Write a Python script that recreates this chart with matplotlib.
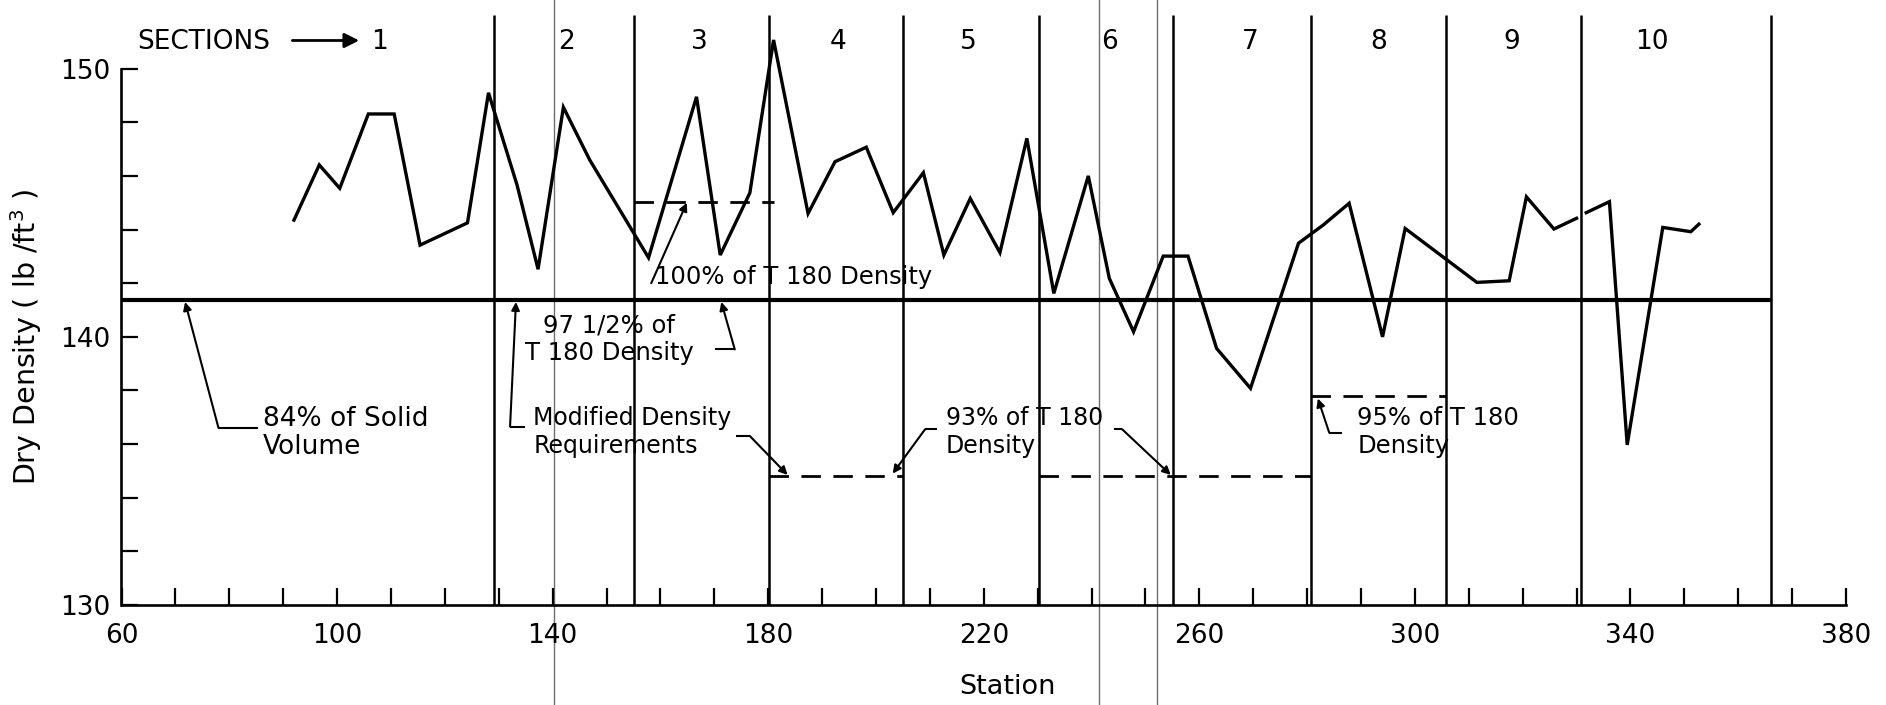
import numpy as np
import matplotlib
matplotlib.use("Agg")
import matplotlib.pyplot as plt
from matplotlib.ticker import FixedLocator

plt.rcParams['font.family'] = ['DejaVu Sans']

# ---------------- data ----------------
stations = [92.0, 96.7, 100.5, 105.8, 110.6, 115.4, 124.2, 128.1, 133.4, 137.3,
            142.0, 146.9, 157.8, 166.7, 171.1, 176.6, 181.0, 187.4, 192.4, 198.2,
            203.2, 208.8, 212.6, 217.5, 223.0, 228.0, 233.0, 239.4, 243.3, 247.8,
            253.3, 257.9, 263.2, 269.5, 278.4, 283.0, 287.8, 294.0, 298.2, 311.5,
            317.5, 320.7, 325.8, 330.0, np.nan, 331.8, 336.1, 339.4, 346.0, 351.2,
            352.7]
dry_density = [144.35, 146.41, 145.54, 148.31, 148.31, 143.42, 144.25, 149.10, 145.66, 142.52,
               148.56, 146.59, 142.95, 148.95, 143.05, 145.37, 151.07, 144.60, 146.53, 147.07,
               144.63, 146.12, 143.05, 145.16, 143.14, 147.40, 141.62, 146.00, 142.18, 140.19,
               143.01, 143.01, 139.57, 138.08, 143.49, 144.17, 144.98, 140.00, 144.04, 142.03,
               142.09, 145.22, 144.02, 144.42, np.nan, 144.63, 145.04, 135.97, 144.08, 143.92,
               144.20]

section_bounds = [129.2, 155.1, 180.1, 205.1, 230.3, 255.2, 280.8, 305.8, 330.8, 366.0]
section_names = ['1', '2', '3', '4', '5', '6', '7', '8', '9', '10']
section_label_x = [107.9, 142.5, 167.3, 193.0, 217.2, 243.3, 269.5, 293.3, 318.0, 344.0]

solid_volume_density = 141.37          # 84% of solid volume (also 97 1/2 % T180)
t180_100 = 145.04
t180_93 = 134.81
t180_95 = 137.80
spans_100 = [(155.1, 181.0)]
spans_93 = [(180.1, 205.1), (230.3, 280.8)]
spans_95 = [(280.8, 305.8)]

scan_lines = [140.3, 241.3, 252.2]     # faint vertical lines of the scanned sheet

x_major = [60, 100, 140, 180, 220, 260, 300, 340, 380]
x_minor = list(range(60, 381, 10))
y_major = [130, 140, 150]
y_minor = list(range(130, 151, 2))

# ---------------- figure ----------------
W, H = 1886, 705
fig = plt.figure(figsize=(W / 100, H / 100), dpi=100)
x0, x1 = 121.5, 1846.0
yb = 605.0
ax = fig.add_axes([x0 / W, 1 - yb / H, (x1 - x0) / W, yb / H])
ax.set_xlim(60, 380)
ax.set_ylim(130, 152.56)

for s in ['top', 'right']:
    ax.spines[s].set_visible(False)
ax.spines['left'].set_bounds(130, 150)
ax.spines['bottom'].set_bounds(60, 380)
for s in ['left', 'bottom']:
    ax.spines[s].set_linewidth(1.9)

ax.xaxis.set_major_locator(FixedLocator(x_major))
ax.xaxis.set_minor_locator(FixedLocator(x_minor))
ax.yaxis.set_major_locator(FixedLocator(y_major))
ax.yaxis.set_minor_locator(FixedLocator(y_minor))
ax.tick_params(axis='both', which='both', direction='in', length=12, width=1.6,
               labelsize=19)
ax.tick_params(axis='x', which='major', pad=13)
ax.tick_params(axis='y', which='major', pad=8)

# scan artefact lines
for xs in scan_lines:
    ax.axvline(xs, ymin=-0.2, ymax=1.0, color='#6e6e6e', lw=1.0, clip_on=False, zorder=1)

# section boundaries
ax.vlines(section_bounds, 130, 152.0, color='black', lw=1.8, zorder=2)

# 84% solid volume line
ax.hlines(solid_volume_density, 60, section_bounds[-1], color='black', lw=3.0, zorder=3)

# dashed T180 lines
dash = (0, (7, 4.5))
for a, b in spans_100:
    ax.plot([a, b], [t180_100, t180_100], color='black', lw=2.0, linestyle=dash)
for a, b in spans_93:
    ax.plot([a, b], [t180_93, t180_93], color='black', lw=2.0, linestyle=dash)
for a, b in spans_95:
    ax.plot([a, b], [t180_95, t180_95], color='black', lw=2.0, linestyle=dash)

# density data
ax.plot(stations, dry_density, color='black', lw=2.4, zorder=4, solid_joinstyle='miter')

# section labels
ax.text(63.0, 151.0, 'SECTIONS', fontsize=19, ha='left', va='center')
ax.annotate('', xy=(104.1, 151.05), xytext=(91.7, 151.05),
            arrowprops=dict(arrowstyle='-|>', lw=2.0, color='black',
                            mutation_scale=22, shrinkA=0, shrinkB=0))
for name, xs in zip(section_names, section_label_x):
    ax.text(xs, 151.0, name, fontsize=19, ha='center', va='center')

# annotations
tfs = 17.5


def leader(pts, tip):
    xs = [p[0] for p in pts]
    ys = [p[1] for p in pts]
    ax.plot(xs, ys, color='black', lw=1.5, solid_capstyle='butt')
    ax.annotate('', xy=tip, xytext=pts[-1],
                arrowprops=dict(arrowstyle='-|>', lw=1.5, color='black',
                                mutation_scale=12, shrinkA=0, shrinkB=0))


ax.text(86.3, 136.42, '84% of Solid\nVolume', fontsize=19, ha='left', va='center',
        linespacing=1.1)
leader([(85.3, 136.6), (78.0, 136.6)], (71.8, 141.3))

ax.text(136.4, 136.45, 'Modified Density\nRequirements', fontsize=17, ha='left',
        va='center', linespacing=1.2)
leader([(134.9, 136.65), (132.1, 136.65)], (133.2, 141.3))
leader([(174.0, 136.3), (176.6, 136.3)], (183.6, 134.85))

ax.text(150.5, 139.9, '97 1/2% of\nT 180 Density', fontsize=tfs, ha='center',
        va='center', multialignment='center', linespacing=1.2)
leader([(170.1, 139.53), (173.8, 139.53)], (171.3, 141.3))

ax.text(159.0, 142.24, '100% of T 180 Density', fontsize=tfs, ha='left', va='center')
leader([(158.3, 142.0)], (164.9, 145.0))

ax.text(213.0, 136.45, '93% of T 180\nDensity', fontsize=17, ha='left', va='center',
        linespacing=1.2)
leader([(211.3, 136.55), (209.1, 136.55)], (203.1, 134.9))
leader([(244.1, 136.55), (245.7, 136.55)], (254.7, 134.85))

ax.text(289.3, 136.45, '95% of T 180\nDensity', fontsize=tfs, ha='left', va='center',
        linespacing=1.2)
leader([(286.4, 136.43), (284.1, 136.43)], (282.0, 137.7))

# axis labels
ax.text(0.514, -0.135, 'Station', transform=ax.transAxes, fontsize=19.5,
        ha='center', va='center')
ax.text(-0.0551, 0.443, 'Dry Density ( lb /ft$^3$ )', transform=ax.transAxes,
        fontsize=20.5, ha='center', va='center', rotation=90)

fig.savefig('out.png', dpi=100, facecolor='white')
